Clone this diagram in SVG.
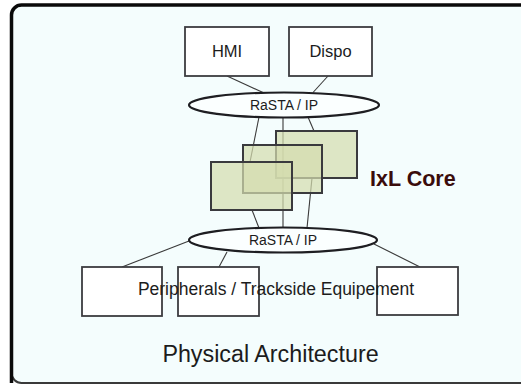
<svg xmlns="http://www.w3.org/2000/svg" width="521" height="385" viewBox="0 0 521 385">
  <defs>
    <style>
      .box{fill:#ffffff;stroke:#3c3c40;stroke-width:1.8}
      .core{fill:#d4ddae;fill-opacity:0.72;stroke:#3a3a3e;stroke-width:2}
      .bus{fill:#fbffff;stroke:#1e1e22;stroke-width:2.2}
      .conn{stroke:#3a3a3a;stroke-width:1.1;fill:none}
      .lbl{font-family:"Liberation Sans",Arial,sans-serif;fill:#1c1c1c;text-anchor:middle}
    </style>
  </defs>
  <rect x="0" y="0" width="521" height="385" fill="#ffffff"/>
  <rect id="frame" x="11.5" y="5" width="540" height="378" rx="10" fill="#f4fdfd" stroke="#3a3a3a" stroke-width="2"/>
  <path d="M11.5,383 V15 A10,10 0 0 1 21.5,5 H521" fill="none" stroke="#0a0a0a" stroke-width="3.5"/>

  <g id="connectors">
    <line class="conn" x1="227" y1="76" x2="263" y2="92.5"/>
    <line class="conn" x1="328" y1="76" x2="313" y2="92.5"/>
    <line class="conn" x1="259" y1="117" x2="250" y2="162"/>
    <line class="conn" x1="283" y1="117" x2="283" y2="228"/>
    <line class="conn" x1="308" y1="117" x2="314" y2="131"/>
    <line class="conn" x1="252" y1="210" x2="259" y2="228"/>
    <line class="conn" x1="312" y1="178" x2="307" y2="228"/>
    <line class="conn" x1="189" y1="241" x2="122" y2="267"/>
    <line class="conn" x1="227" y1="252" x2="219" y2="267"/>
    <line class="conn" x1="374" y1="244" x2="420" y2="267"/>
  </g>

  <g id="hmi">
    <rect class="box" x="185" y="27" width="84" height="49"/>
    <text class="lbl" x="227" y="57" font-size="16.5">HMI</text>
  </g>
  <g id="dispo">
    <rect class="box" x="289" y="27" width="83" height="49"/>
    <text class="lbl" x="330.5" y="57" font-size="16.5">Dispo</text>
  </g>

  <g id="bus-top">
    <ellipse class="bus" cx="284" cy="105" rx="95" ry="12.5"/>
    <text class="lbl" x="284" y="110" font-size="14">RaSTA / IP</text>
  </g>

  <g id="ixl-core">
    <rect class="core" x="276" y="131" width="81" height="47"/>
    <rect class="core" x="243" y="145" width="79" height="48"/>
    <rect class="core" x="211" y="162" width="81" height="48"/>
    <text x="370" y="186" font-family="'Liberation Sans',Arial,sans-serif" font-weight="bold" font-size="21.5" fill="#3a0c0c">IxL Core</text>
  </g>

  <g id="bus-bottom">
    <ellipse class="bus" cx="283" cy="240" rx="94" ry="12.5"/>
    <text class="lbl" x="283" y="245" font-size="14">RaSTA / IP</text>
  </g>

  <g id="peripherals">
    <rect class="box" x="82" y="267" width="80" height="49"/>
    <rect class="box" x="178" y="267" width="81" height="49"/>
    <rect class="box" x="377" y="267" width="81" height="48"/>
    <text class="lbl" x="276" y="295" font-size="17.5">Peripherals / Trackside Equipement</text>
  </g>

  <text class="lbl" x="270.5" y="362" font-size="23.3">Physical Architecture</text>
</svg>
